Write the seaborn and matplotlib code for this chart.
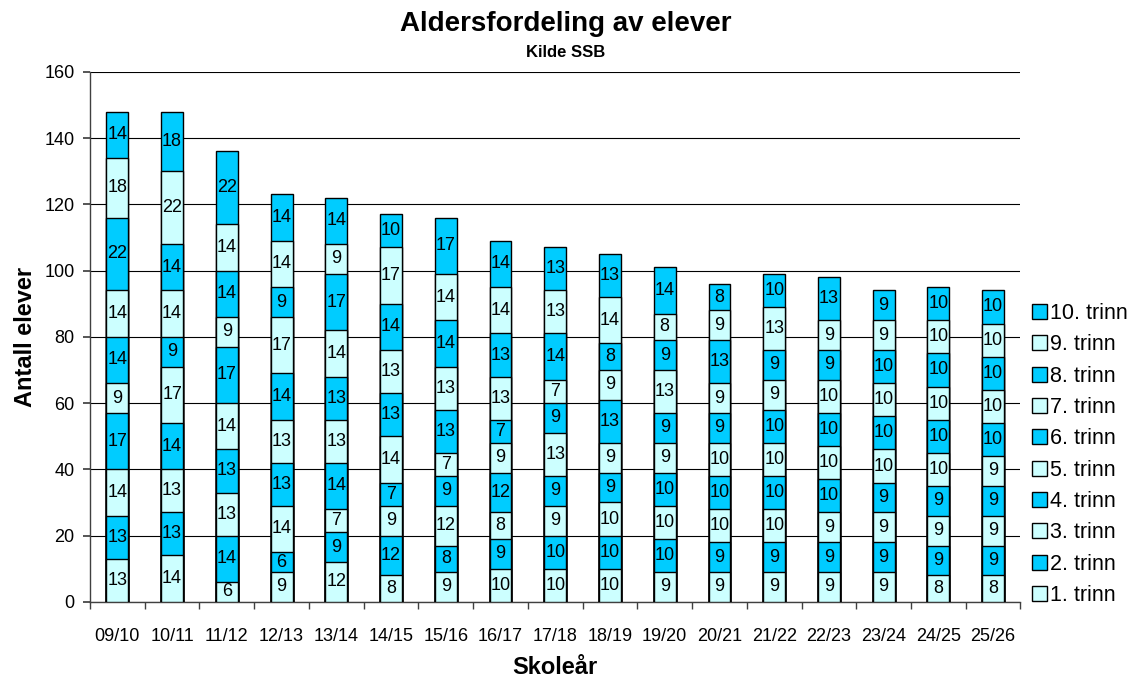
import matplotlib
matplotlib.use("Agg")
import matplotlib.pyplot as plt
import numpy as np
import pandas as pd
import seaborn as sns
from matplotlib.patches import Patch

# skoleår and elever per trinn (1. trinn first)
years = ["09/10", "10/11", "11/12", "12/13", "13/14", "14/15", "15/16", "16/17",
         "17/18", "18/19", "19/20", "20/21", "21/22", "22/23", "23/24", "24/25", "25/26"]
grades = [f"{i}. trinn" for i in range(1, 11)]
counts = [
    [13, 13, 14, 17, 9, 14, 14, 22, 18, 14],
    [14, 13, 13, 14, 17, 9, 14, 14, 22, 18],
    [6, 14, 13, 13, 14, 17, 9, 14, 14, 22],
    [9, 6, 14, 13, 13, 14, 17, 9, 14, 14],
    [12, 9, 7, 14, 13, 13, 14, 17, 9, 14],
    [8, 12, 9, 7, 14, 13, 13, 14, 17, 10],
    [9, 8, 12, 9, 7, 13, 13, 14, 14, 17],
    [10, 9, 8, 12, 9, 7, 13, 13, 14, 14],
    [10, 10, 9, 9, 13, 9, 7, 14, 13, 13],
    [10, 10, 10, 9, 9, 13, 9, 8, 14, 13],
    [9, 10, 10, 10, 9, 9, 13, 9, 8, 14],
    [9, 9, 10, 10, 10, 9, 9, 13, 9, 8],
    [9, 9, 10, 10, 10, 10, 9, 9, 13, 10],
    [9, 9, 9, 10, 10, 10, 10, 9, 9, 13],
    [9, 9, 9, 9, 10, 10, 10, 10, 9, 9],
    [8, 9, 9, 9, 10, 10, 10, 10, 10, 10],
    [8, 9, 9, 9, 9, 10, 10, 10, 10, 10],
]

LIGHT = "#CCFFFF"
DARK = "#00CCFF"

sns.set_theme(style="white")
plt.rcParams["font.family"] = ["Liberation Sans", "DejaVu Sans"]
plt.rcParams.update({"text.color": "black", "axes.labelcolor": "black",
                     "xtick.color": "black", "ytick.color": "black"})

df = pd.DataFrame(counts, index=years, columns=grades)
cum = df.cumsum(axis=1)

fig = plt.figure(figsize=(11.32, 6.77), dpi=100)
ax = fig.add_axes([0.0795, 0.111, 0.822, 0.783])

# tallest layer first so lower layers sit on top (overlap stacking)
for i in range(len(grades) - 1, -1, -1):
    g = grades[i]
    sns.barplot(x=years, y=cum[g].values, color=DARK if i % 2 else LIGHT,
                saturation=1, width=0.4, edgecolor="black", linewidth=1.0,
                ax=ax, zorder=3)

for xi, yr in enumerate(years):
    for g in grades:
        mid = cum.loc[yr, g] - df.loc[yr, g] / 2
        ax.text(xi, mid, str(df.loc[yr, g]), ha="center", va="center",
                fontsize=13, zorder=5)

ax.set_ylim(0, 160)
ax.set_xlim(-0.5, len(years) - 0.5)
ax.set_yticks(np.arange(0, 161, 20))
ax.yaxis.grid(True, color="black", linewidth=0.8)
ax.set_axisbelow(True)
for s in ["top", "right"]:
    ax.spines[s].set_visible(False)
for s in ["left", "bottom"]:
    ax.spines[s].set_color("#404040")
    ax.spines[s].set_linewidth(1.0)
ax.tick_params(axis="y", left=True, length=5, color="#404040", labelsize=13, pad=6)
ax.tick_params(axis="x", bottom=False, labelsize=13, pad=13)
ax.set_xticks(np.arange(len(years) + 1) - 0.5, minor=True)
ax.tick_params(axis="x", which="minor", bottom=True, length=5, color="#404040")

ax.set_xlabel("Skoleår", fontsize=17, fontweight="bold", va="center")
ax.xaxis.set_label_coords(0.5, -0.123)
ax.set_ylabel("Antall elever", fontsize=17, fontweight="bold", va="center")
ax.yaxis.set_label_coords(-0.069, 0.5)

fig.text(0.5, 0.964, "Aldersfordeling av elever", ha="center", va="center",
         fontsize=20, fontweight="bold")
fig.text(0.5, 0.922, "Kilde SSB", ha="center", va="center",
         fontsize=12, fontweight="bold")

handles = [Patch(facecolor=DARK if i % 2 else LIGHT, edgecolor="black", linewidth=1.0)
           for i in range(len(grades))]
ax.legend(handles[::-1], grades[::-1], loc="center left", bbox_to_anchor=(1.012, 0.278),
          frameon=False, fontsize=15.5, handlelength=0.7, handleheight=0.7,
          handletextpad=0.15, labelspacing=0.48, borderpad=0, borderaxespad=0)

fig.savefig("out.png", dpi=100)
